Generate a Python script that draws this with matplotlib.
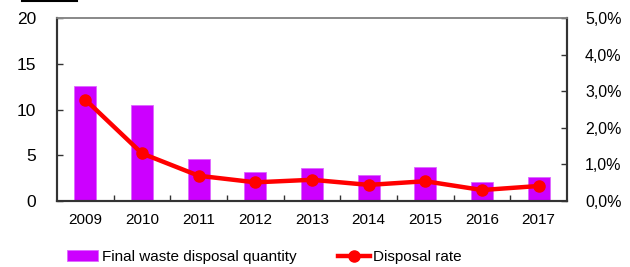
import matplotlib
matplotlib.use("Agg")
import matplotlib.pyplot as plt
from matplotlib.lines import Line2D
import numpy as np

years = ["2009", "2010", "2011", "2012", "2013", "2014", "2015", "2016", "2017"]
quantity = [12.6, 10.5, 4.6, 3.2, 3.6, 2.8, 3.7, 2.1, 2.6]
rate = [2.77, 1.30, 0.69, 0.51, 0.58, 0.44, 0.54, 0.30, 0.41]  # percent
left_ticks = [0, 5, 10, 15, 20]
right_ticks = [0, 1, 2, 3, 4, 5]
right_labels = ["0,0%", "1,0%", "2,0%", "3,0%", "4,0%", "5,0%"]

plt.rcParams["font.family"] = ["Liberation Sans", "DejaVu Sans"]

fig = plt.figure(figsize=(6.3, 2.67), dpi=100)
ax = fig.add_axes([57/630, 1-201/267, (567-57)/630, (201-18)/267])
x = np.arange(len(years))
bars = ax.bar(x, quantity, width=0.39, color="#CC00FF", edgecolor="#DD66FF", linewidth=0.6,
              label="Final waste disposal quantity", zorder=2)
ax.set_xlim(-0.5, len(years)-0.5)
ax.set_ylim(0, 20)
ax.set_yticks(left_ticks)
ax.set_yticklabels([str(t) for t in left_ticks], fontsize=12.5)
ax.set_xticks(x)
ax.set_xticklabels(years, fontsize=11)
ax.set_xticks(np.arange(0.5, len(years)-1, 1), minor=True)
ax.tick_params(axis="x", which="major", length=0, pad=9)
ax.tick_params(axis="x", which="minor", direction="in", length=4, width=1, color="#333333")
ax.tick_params(axis="y", direction="in", length=4, width=1, pad=15, color="#333333")

ax2 = ax.twinx()
line, = ax2.plot(x, rate, color="#FF0000", lw=3.2, marker="o", markersize=8,
                 label="Disposal rate", zorder=3)
ax2.set_ylim(0, 5)
ax2.set_yticks(right_ticks)
ax2.set_yticklabels(right_labels, fontsize=11.5)
ax2.tick_params(axis="y", direction="in", length=4, width=1, pad=13, color="#333333")

for a in (ax, ax2):
    for s in ("left", "bottom", "right"):
        a.spines[s].set_color("#333333")
        a.spines[s].set_linewidth(1.5)
    a.spines["top"].set_color("#888888")
    a.spines["top"].set_linewidth(1.2)

leg1 = fig.legend(handles=[bars], labels=["Final waste disposal quantity"],
                  loc="center left", bbox_to_anchor=(67/630, 1-257/267), frameon=False,
                  fontsize=11, handlelength=2.0, handleheight=0.7, handletextpad=0.3,
                  borderpad=0, borderaxespad=0)
leg2 = fig.legend(handles=[line], labels=["Disposal rate"],
                  loc="center left", bbox_to_anchor=(338/630, 1-257/267), frameon=False,
                  fontsize=11, handlelength=2.1, handletextpad=0.2,
                  borderpad=0, borderaxespad=0)

fig.add_artist(Line2D([22/630, 77/630], [1-1/267, 1-1/267], color="black", lw=1.5,
                      transform=fig.transFigure))

fig.savefig("out.png", dpi=100)
